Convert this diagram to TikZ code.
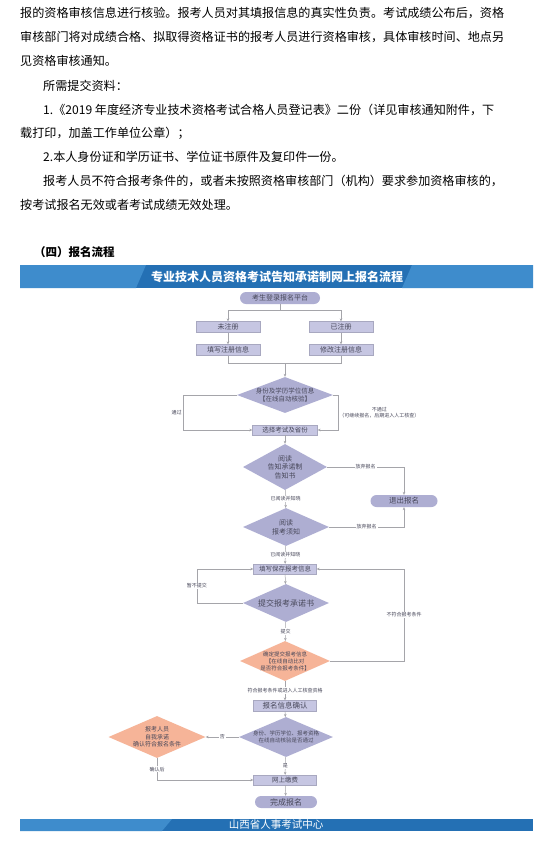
\documentclass[tikz,border=0pt]{standalone}
\usepackage{fontspec}
\setmainfont{Noto Sans CJK SC}
\usetikzlibrary{arrows.meta,shapes.geometric}
\definecolor{bandblue}{RGB}{36,112,180}
\definecolor{bandlite}{RGB}{62,140,204}
\definecolor{boxfill}{RGB}{198,198,226}
\definecolor{diafill}{RGB}{174,174,210}
\definecolor{orgfill}{RGB}{246,180,152}
\definecolor{linegray}{RGB}{165,165,170}
\definecolor{txtgray}{RGB}{72,72,90}

\begin{document}
\begin{tikzpicture}[
        x=1pt, y=-1pt,
        body/.style={anchor=west, inner sep=0pt, font=\fontsize{12.1}{14}\selectfont},
        stepbox/.style={rectangle, fill=boxfill, draw=boxfill!85!black, line width=0.3pt, minimum width=64pt, minimum height=11pt, inner sep=0pt, font=\fontsize{7}{8}\selectfont, text=txtgray},
        endbox/.style={stepbox, rounded corners=6pt, fill=diafill, draw=none},
        dia/.style={diamond, fill=diafill, draw=none, inner sep=0pt},
        diaorg/.style={dia, fill=orgfill},
        dtext/.style={font=\fontsize{6.5}{8}\selectfont, text=txtgray, align=center},
        lbl/.style={font=\fontsize{5}{6}\selectfont, text=txtgray, inner sep=1pt, align=center},
        line/.style={draw=linegray, line width=0.5pt},
        arr/.style={line, -{Stealth[length=3pt, width=2.6pt]}},
    ]
        \useasboundingbox (0,0) rectangle (547,841);
        \fill[white] (0,0) rectangle (547,841);

        % Text above the chart
        \node[body] (t1) at (20,13) {报的资格审核信息进行核验。报考人员对其填报信息的真实性负责。考试成绩公布后，资格};
        \node[body] (t2) at (20,37) {审核部门将对成绩合格、拟取得资格证书的报考人员进行资格审核，具体审核时间、地点另};
        \node[body] (t3) at (20,61) {见资格审核通知。};
        \node[body] (t4) at (43,86) {所需提交资料：};
        \node[body] (t5) at (43,110) {1.《2019 年度经济专业技术资格考试合格人员登记表》二份（详见审核通知附件，下};
        \node[body] (t6) at (20,133) {载打印，加盖工作单位公章）；};
        \node[body] (t7) at (43,157) {2.本人身份证和学历证书、学位证书原件及复印件一份。};
        \node[body] (t8) at (43,181) {报考人员不符合报考条件的，或者未按照资格审核部门（机构）要求参加资格审核的，};
        \node[body] (t9) at (20,205) {按考试报名无效或者考试成绩无效处理。};
        \node[body, font=\bfseries\fontsize{11.5}{13}\selectfont] (head) at (34,252) {（四）报名流程};

        % Header and footer bands
        \fill[bandblue] (20,265) rectangle (533,288);
        \fill[bandlite] (20,265) -- (146,265) -- (136,288) -- (20,288) -- cycle;
        \fill[bandlite] (412,265) -- (533,265) -- (533,288) -- (402,288) -- cycle;
        \node[font=\bfseries\fontsize{12}{14}\selectfont, text=white] (title) at (277,277) {专业技术人员资格考试告知承诺制网上报名流程};
        \fill[bandblue] (20,819) rectangle (533,831);
        \fill[bandlite] (20,819) -- (172,819) -- (162,831) -- (20,831) -- cycle;
        \node[font=\fontsize{10.5}{12}\selectfont, text=white] (foot) at (276,825) {山西省人事考试中心};

        % Login and registration
        \node[endbox, minimum width=80pt, minimum height=12pt, font=\fontsize{7}{8}\selectfont] (start) at (280,298) {考生登录报名平台};
        \node[stepbox] (unreg) at (228,327) {未注册};
        \node[stepbox] (reg) at (341,327) {已注册};
        \node[stepbox] (fillreg) at (228,350) {填写注册信息};
        \node[stepbox] (modreg) at (341,350) {修改注册信息};
        \coordinate (split) at (280,310);
        \coordinate (merge) at (285,363);
        \draw[line] (start) -- (split);
        \draw[arr] (split) -| (unreg);
        \draw[arr] (split) -| (reg);
        \draw[arr] (unreg) -- (fillreg);
        \draw[arr] (reg) -- (modreg);
        \draw[line] (fillreg) |- (merge);
        \draw[line] (modreg) |- (merge);

        % Online checks
        \node[dia, minimum width=96pt, minimum height=36pt, label={[dtext]center:{身份及学历学位信息\\【在线自动核验】}}] (d1) at (285,395) {};
        \node[stepbox, minimum width=65pt, minimum height=10pt, font=\fontsize{6.5}{8}\selectfont] (choose) at (285,430) {选择考试及省份};
        \draw[arr] (merge) -- (d1);
        \draw[arr] (d1.west) -- ++(-54,0) |- node[pos=0.25, anchor=east, lbl]{通过} (choose.west);
        \draw[arr] (d1.east) -- ++(5,0) |- node[pos=0.25, anchor=west, lbl]{不通过\\（可继续报名，后期进入人工核查）} (choose.east);

        % Reading the notices
        \node[dia, minimum width=84pt, minimum height=46pt, label={[dtext, font=\fontsize{7}{8.5}\selectfont]center:{阅读\\告知承诺制\\告知书}}] (d2) at (285,467) {};
        \node[endbox, minimum width=67pt, minimum height=12pt, font=\fontsize{7.5}{9}\selectfont] (quit) at (404,501) {退出报名};
        \node[dia, minimum width=86pt, minimum height=38pt, label={[dtext, font=\fontsize{7}{9}\selectfont]center:{阅读\\报考须知}}] (d3) at (286,527) {};
        \draw[arr] (choose) -- (d2);
        \draw[arr] (d2.east) -| node[pos=0.25, lbl, fill=white]{放弃报名} (quit.north);
        \draw[arr] (d3.east) -| node[pos=0.25, lbl, fill=white]{放弃报名} (quit.south);
        \draw[arr] (d2) -- node[lbl, fill=white]{已阅读并知晓} (d3);

        % Filling and submitting
        \node[stepbox, minimum width=63pt, minimum height=10pt, font=\fontsize{6.5}{8}\selectfont] (fillinfo) at (285,569) {填写保存报考信息};
        \node[dia, minimum width=86pt, minimum height=38pt, label={[dtext, font=\fontsize{8}{9}\selectfont]center:{提交报考承诺书}}] (d4) at (286,603) {};
        \node[diaorg, minimum width=90pt, minimum height=40pt, label={[dtext, font=\fontsize{5.5}{7}\selectfont]center:{确定提交报考信息\\【在线自动比对\\是否符合报考条件】}}] (d5) at (285,661) {};
        \draw[arr] (d3) -- node[lbl, fill=white]{已阅读并知晓} (fillinfo);
        \draw[arr] (fillinfo) -- (d4);
        \draw[arr] (d4.west) -- ++(-46,0) |- node[pos=0.25, lbl, fill=white]{暂不提交} (fillinfo.west);
        \draw[arr] (d4) -- node[lbl, fill=white]{提交} (d5);
        \draw[arr] (d5.east) -- ++(74,0) |- node[pos=0.25, lbl, fill=white]{不符合报考条件} (fillinfo.east);

        % Confirmation and payment
        \node[stepbox, minimum width=63pt, minimum height=11pt, font=\fontsize{7.5}{9}\selectfont] (confirm) at (285,706) {报名信息确认};
        \node[dia, minimum width=94pt, minimum height=40pt, label={[dtext, font=\fontsize{5.5}{7}\selectfont]center:{身份、学历学位、报考资格\\在线自动核验是否通过}}] (d6) at (286,737) {};
        \node[diaorg, minimum width=97pt, minimum height=42pt, label={[dtext, font=\fontsize{6}{7.5}\selectfont]center:{报考人员\\自我承诺\\确认符合报名条件}}] (d7) at (157,737) {};
        \node[stepbox, minimum width=63pt, minimum height=10pt, font=\fontsize{6.5}{8}\selectfont] (pay) at (285,780) {网上缴费};
        \node[endbox, minimum width=62pt, minimum height=12pt, font=\fontsize{8}{9}\selectfont] (done) at (286,802) {完成报名};
        \draw[arr] (d5) -- node[lbl, fill=white]{符合报考条件或进入人工核查资格} (confirm);
        \draw[arr] (confirm) -- (d6);
        \draw[arr] (d6.west) -- node[lbl, fill=white]{否} (d7.east);
        \draw[arr] (d7.south) |- node[pos=0.25, lbl, fill=white]{确认后} (pay.west);
        \draw[arr] (d6) -- node[lbl, fill=white]{是} (pay);
        \draw[arr] (pay) -- (done);
    \end{tikzpicture}
\end{document}
